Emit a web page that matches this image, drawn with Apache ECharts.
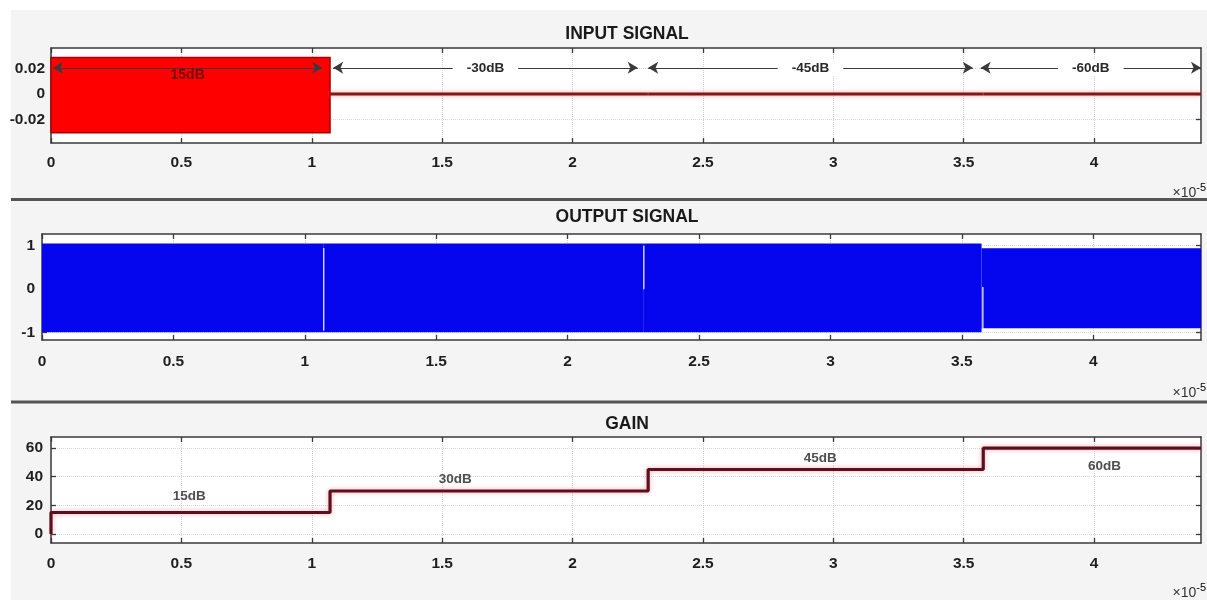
<!DOCTYPE html>
<html><head><meta charset="utf-8">
<script src="https://cdn.jsdelivr.net/npm/echarts@6/dist/echarts.min.js"></script>
<style>html,body{margin:0;padding:0;background:#fff}#c{width:1207px;height:600px}</style>
</head><body><div id="c"></div>
<script>
// ---- data ----
const panelTitles = ['INPUT SIGNAL', 'OUTPUT SIGNAL', 'GAIN'];
const xTickValues = [0, 0.5, 1, 1.5, 2, 2.5, 3, 3.5, 4];
const xMax = 4.41;
const stepTimes = [0, 1.07, 2.29, 3.575, 4.41];

const inputUpper = [0.0285, 0.0012, 0.0012, 0.0012];
const inputLower = [-0.0303, -0.0012, -0.0012, -0.0012];
const inputTicks = [-0.02, 0, 0.02];
const inputArrowStart = [0.008, 1.082, 2.29, 3.565];
const inputArrowEnd = [1.04, 2.25, 3.535, 4.41];
const inputArrowLevel = 0.0205;
const inputLabels = ['15dB', '-30dB', '-45dB', '-60dB'];

const outputUpper = [1.05, 1.05, 1.05, 0.94];
const outputLower = [-0.99, -0.99, -0.99, -0.9];
const outputTicks = [-1, 0, 1];
const glitchTimes = [1.072, 2.29, 3.58];
const glitchTop = [0.95, 1.0, 0.05];
const glitchBottom = [-0.95, 0.0, -0.95];

const gainDb = [15, 30, 45, 60];
const gainTicks = [0, 20, 40, 60];
const gainLabels = ['15dB', '30dB', '45dB', '60dB'];
const gainLabelX = [0.53, 1.55, 2.95, 4.04];
const gainLabelY = [26, 38, 53, 47];

// ---- layout ----
const FONT = 'Liberation Sans, Arial, sans-serif';
const grids = [
  {left: 51, top: 48, width: 1150, height: 95},
  {left: 42, top: 234, width: 1159, height: 106},
  {left: 51, top: 437, width: 1150, height: 106}
];
const yRanges = [[-0.0384, 0.036], [-1.17, 1.27], [-6.3, 67.7]];
const yTickSets = [inputTicks, outputTicks, gainTicks];
const yLabelMargins = [6, 7, 8];
const xLabelMargins = [12, 14, 13];

const xAxes = [], yAxes = [];
grids.forEach((g, i) => {
  ['bottom', 'top'].forEach(pos => {
    const main = pos === 'bottom';
    xAxes.push({
      type: 'value', gridIndex: i, position: pos, min: 0, max: xMax,
      axisLine: {show: true, onZero: false, lineStyle: {color: '#3a3a3a', width: 1.5}},
      axisTick: {show: true, inside: true, length: 5, customValues: xTickValues, lineStyle: {color: '#3a3a3a', width: 1.3}},
      axisLabel: {show: main, customValues: xTickValues, margin: xLabelMargins[i], fontSize: 15.5, fontWeight: 'bold', color: '#1e1e1e', fontFamily: FONT},
      splitLine: {show: main, lineStyle: {color: '#d2d2d2', type: 'dotted', width: 1}}
    });
  });
  ['left', 'right'].forEach(pos => {
    const main = pos === 'left';
    yAxes.push({
      type: 'value', gridIndex: i, position: pos, min: yRanges[i][0], max: yRanges[i][1],
      axisLine: {show: true, onZero: false, lineStyle: {color: '#3a3a3a', width: 1.5}},
      axisTick: {show: true, inside: true, length: 5, customValues: yTickSets[i], lineStyle: {color: '#3a3a3a', width: 1.3}},
      axisLabel: {show: main, customValues: yTickSets[i], margin: yLabelMargins[i], fontSize: 15.5, fontWeight: 'bold', color: '#1e1e1e', fontFamily: FONT},
      splitLine: {show: main, lineStyle: {color: '#d8d8d8', type: 'dotted', width: 1}}
    });
  });
});

function bandRender(colorFn) {
  return function (params, api) {
    const x0 = api.value(0), x1 = api.value(1), lo = api.value(2), hi = api.value(3);
    const p0 = api.coord([x0, hi]);
    const p1 = api.coord([x1, lo]);
    const st = colorFn(params.dataIndex);
    return {type: 'rect', shape: {x: p0[0], y: p0[1], width: p1[0] - p0[0], height: Math.max(p1[1] - p0[1], 1)}, style: st};
  };
}

const inputBandData = inputUpper.map((u, i) => [stepTimes[i], stepTimes[i + 1], inputLower[i], u]);
const outputBandData = outputUpper.map((u, i) => [stepTimes[i], stepTimes[i + 1], outputLower[i], u]);
const glitchData = glitchTimes.map((t, i) => [t, glitchBottom[i], glitchTop[i]]);
const gainData = [[0, 0]].concat(gainDb.map((g, i) => [stepTimes[i], g])).concat([[stepTimes[4], gainDb[3]]]);
const gainLabelData = gainLabels.map((n, i) => ({value: [gainLabelX[i], gainLabelY[i]], name: n}));

const arrowLines = inputLabels.map((lab, i) => {
  const first = i === 0;
  return [
    {coord: [inputArrowStart[i], inputArrowLevel],
     label: first
       ? {show: true, formatter: lab, position: 'insideMiddleBottom', distance: 0, color: '#7a0a0a', fontSize: 14, fontWeight: 'bold', fontFamily: FONT}
       : {show: true, formatter: lab, position: 'insideMiddle', color: '#2a2a2a', fontSize: 13.5, fontWeight: 'bold', fontFamily: FONT, backgroundColor: '#fff', padding: [1, 14]}},
    {coord: [inputArrowEnd[i], inputArrowLevel]}
  ];
});

const series = [
  {
    type: 'custom', xAxisIndex: 0, yAxisIndex: 0, silent: true,
    renderItem: bandRender(i => i === 0
      ? {fill: '#ff0000', stroke: '#a80000', lineWidth: 1.5}
      : {fill: '#7c1a1a', shadowColor: 'rgba(255,100,110,0.7)', shadowBlur: 4}),
    encode: {x: [0, 1], y: [2, 3]},
    data: inputBandData,
    markLine: {
      silent: true, animation: false,
      symbol: ['arrow', 'arrow'], symbolSize: [9, 10],
      lineStyle: {color: '#3a3a3a', width: 1.2, type: 'solid'},
      data: arrowLines
    }
  },
  {
    type: 'custom', xAxisIndex: 2, yAxisIndex: 2, silent: true,
    renderItem: bandRender(() => ({fill: '#0505ee'})),
    encode: {x: [0, 1], y: [2, 3]},
    data: outputBandData
  },
  {
    type: 'custom', xAxisIndex: 2, yAxisIndex: 2, silent: true, z: 5,
    renderItem: function (params, api) {
      const a = api.coord([api.value(0), api.value(2)]);
      const b = api.coord([api.value(0), api.value(1)]);
      return {type: 'line', shape: {x1: a[0], y1: a[1], x2: b[0], y2: b[1]}, style: {stroke: '#e8e8ff', lineWidth: 1.3}};
    },
    encode: {x: 0, y: [1, 2]},
    data: glitchData
  },
  {
    type: 'line', xAxisIndex: 4, yAxisIndex: 4, step: 'end', showSymbol: false, silent: true,
    lineStyle: {color: '#5a1020', width: 3.2, shadowColor: 'rgba(255,90,110,0.55)', shadowBlur: 5},
    data: gainData
  },
  {
    type: 'scatter', xAxisIndex: 4, yAxisIndex: 4, symbolSize: 0, silent: true,
    label: {show: true, position: 'inside', formatter: p => p.name, color: '#222', fontSize: 13.5, fontWeight: 'bold', fontFamily: FONT},
    data: gainLabelData
  }
];

const titleY = [34, 217, 424];
const expY = [193, 393, 593];
const graphic = [
  {type: 'rect', shape: {x: 11, y: 10, width: 1196, height: 590}, style: {fill: '#f4f4f4'}, z: -10, silent: true},
  {type: 'line', shape: {x1: 11, y1: 199.5, x2: 1207, y2: 199.5}, style: {stroke: '#555', lineWidth: 3}, silent: true},
  {type: 'line', shape: {x1: 11, y1: 402, x2: 1207, y2: 402}, style: {stroke: '#555', lineWidth: 3}, silent: true}
];
panelTitles.forEach((t, i) => {
  graphic.push({type: 'text', x: 627, y: titleY[i], silent: true,
    style: {text: t, font: 'bold 17.5px ' + FONT, fill: '#1a1a1a', textAlign: 'center', textVerticalAlign: 'middle'}});
  graphic.push({type: 'text', x: 1206, y: expY[i], silent: true,
    style: {text: '{a|×10}{b|-5}', textAlign: 'right', textVerticalAlign: 'middle',
      rich: {a: {fontSize: 14, fontFamily: FONT, fill: '#333', color: '#333'},
             b: {fontSize: 11, fontFamily: FONT, color: '#333', verticalAlign: 'top', padding: [0, 0, 10, 0]}}}});
});

const chart = echarts.init(document.getElementById('c'), null, {renderer: 'canvas'});
chart.setOption({
  animation: false,
  backgroundColor: '#ffffff',
  grid: grids.map(g => Object.assign({show: true, backgroundColor: '#ffffff', borderWidth: 0}, g)),
  xAxis: xAxes,
  yAxis: yAxes,
  series: series,
  graphic: graphic
});
</script></body></html>
